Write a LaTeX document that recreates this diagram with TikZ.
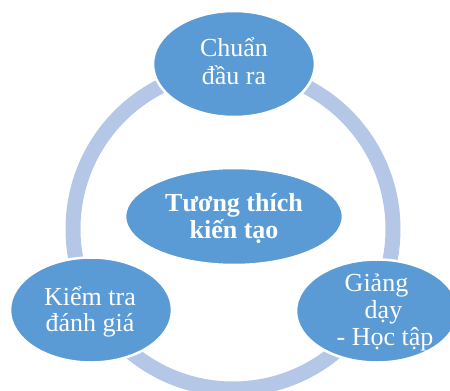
\documentclass[tikz,border=0pt]{standalone}
\usepackage{fontspec}
\setmainfont{Liberation Serif}
\usetikzlibrary{shapes.geometric}
\definecolor{ellblue}{HTML}{5B9BD5}
\definecolor{ringblue}{HTML}{B4C7E7}
\tikzset{
  ell/.style={ellipse, fill=ellblue, draw=white, line width=2.5pt, inner sep=0pt},
  lbl/.style={anchor=base, text=white, inner sep=0pt, font=\fontsize{26}{27}\selectfont},
  blbl/.style={lbl, font=\fontsize{26}{27}\selectfont\bfseries},
  ring/.style={draw=ringblue, line width=15pt}
}
\begin{document}
\begin{tikzpicture}[x=1pt,y=-1pt]
\useasboundingbox (0,0) rectangle (450,391);
\coordinate (rc) at (233,229);
\draw[ring] (rc) circle[radius=160];
\node[ell, minimum width=162pt, minimum height=106pt] (top) at (234,64) {};
\node[ell, minimum width=162pt, minimum height=105pt] (bl) at (91,310) {};
\node[ell, minimum width=162pt, minimum height=103pt] (br) at (377,311) {};
\node[ell, minimum width=218pt, minimum height=97pt] (mid) at (234,216.5) {};
\node[lbl] (t1) at (234,56.7) {Chuẩn};
\node[lbl] (t2) at (234,84.5) {đầu ra};
\node[lbl] (l1) at (90,305) {Kiểm tra};
\node[lbl] (l2) at (90,331.7) {đánh giá};
\node[lbl] (r1) at (376.5,291.7) {Giảng};
\node[lbl] (r2) at (383.5,318) {dạy};
\node[lbl] (r3) at (385,345) {- Học tập};
\node[blbl] (m1) at (234,211.7) {Tương thích};
\node[blbl] (m2) at (234,238.3) {kiến tạo};
\end{tikzpicture}
\end{document}
